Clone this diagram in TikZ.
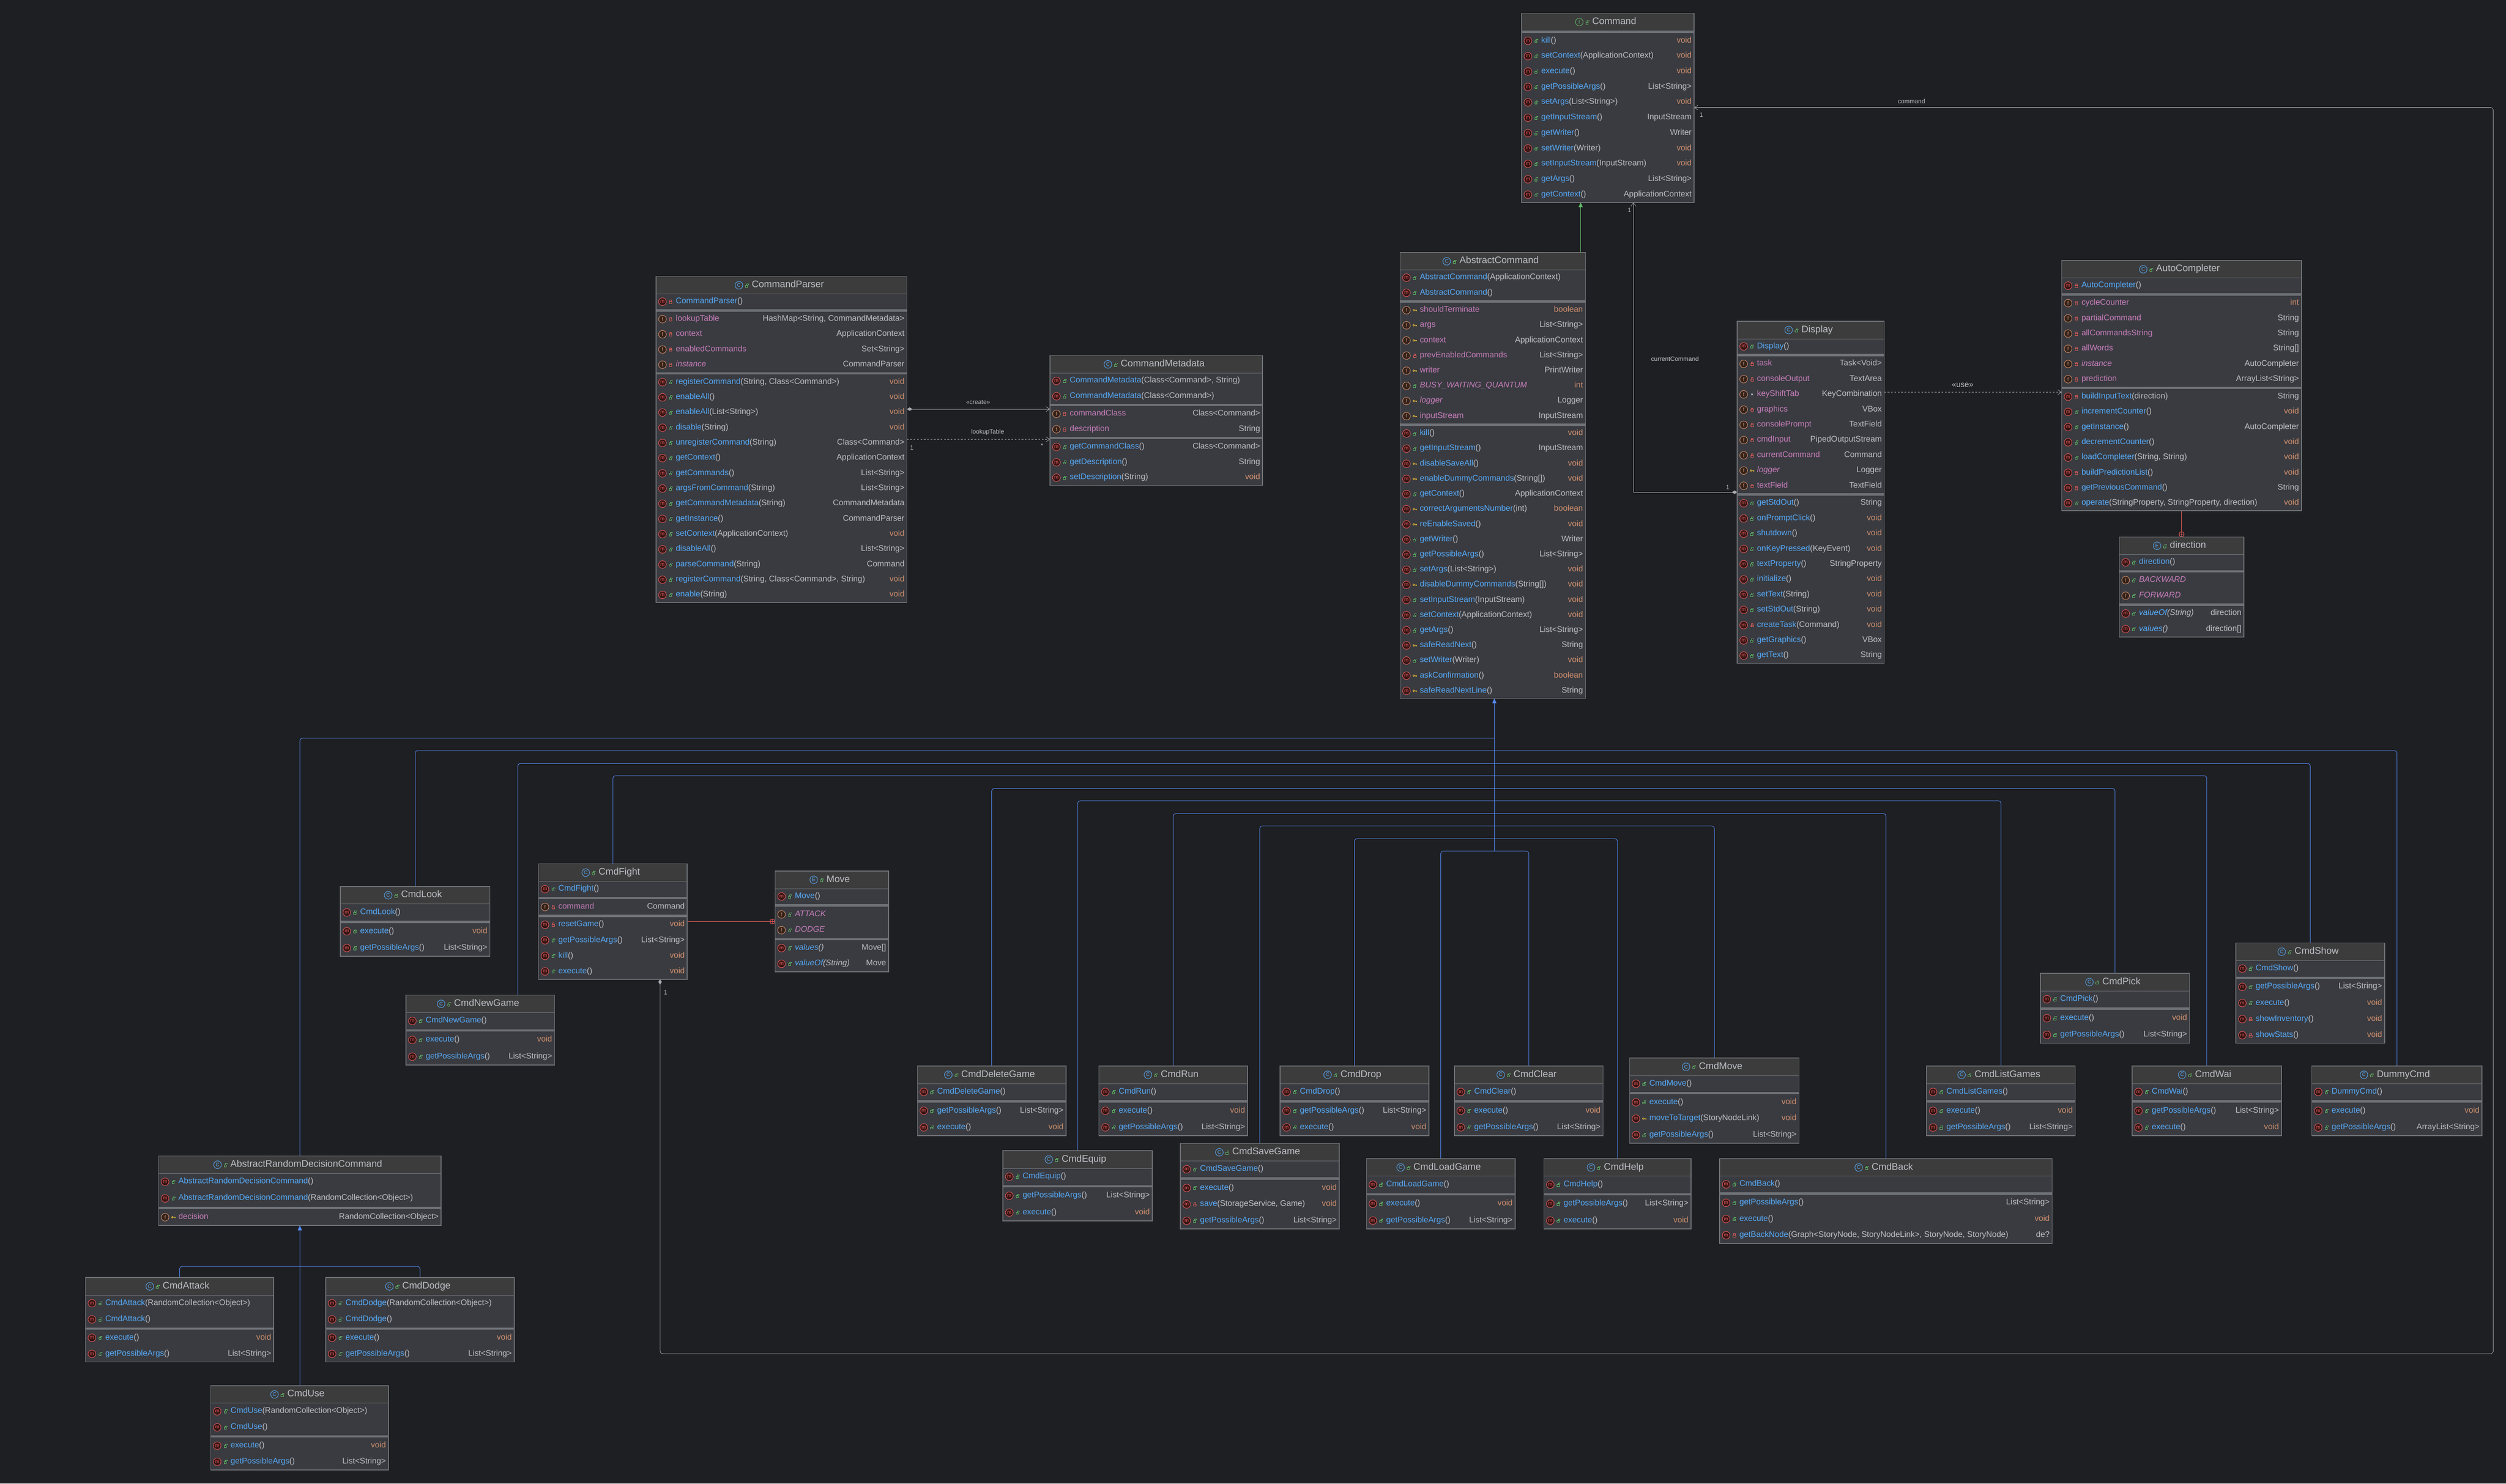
\documentclass[tikz,border=0pt]{standalone}
\usepackage{fontspec}
\setmainfont{Liberation Sans}
\usetikzlibrary{arrows.meta,calc}
\definecolor{cbg}{HTML}{1E1F22}
\definecolor{crow}{HTML}{393B40}
\definecolor{ctitle}{HTML}{3C3C3C}
\definecolor{cborder}{HTML}{6F7277}
\definecolor{ctext}{HTML}{BCBEC4}
\definecolor{cblue}{HTML}{56A8F5}
\definecolor{cpink}{HTML}{C77DBB}
\definecolor{corange}{HTML}{CF8E6D}
\definecolor{cred}{HTML}{E05A5A}
\definecolor{cgreen}{HTML}{5FB865}
\definecolor{cyellow}{HTML}{E8BA36}
\definecolor{cline}{HTML}{548AF7}
\definecolor{cgrey}{HTML}{A8ABB0}
\pgfdeclarelayer{bgl}
\pgfdeclarelayer{lines}
\pgfsetlayers{bgl,lines,main}
\def\TH{11}\def\SG{1.4}
\newcommand\rowfont{\fontsize{14.5}{15}\selectfont}
\newcommand\ttlfont{\fontsize{17}{18}\selectfont}
\newcommand\icofont{\fontsize{9}{9}\selectfont}
\newcommand\lblfont{\fontsize{11}{12}\selectfont}
\def\svoid{void}\def\sbool{boolean}\def\sint{int}\def\sI{I}
\def\ukm{\def\uic{m}\def\uicc{cred}\def\unc{cblue}\let\ufs\relax}
\def\ukM{\def\uic{m}\def\uicc{cred}\def\unc{cblue}\let\ufs\itshape}
\def\ukf{\def\uic{f}\def\uicc{corange}\def\unc{cpink}\let\ufs\relax}
\def\ukF{\def\uic{f}\def\uicc{corange}\def\unc{cpink}\let\ufs\itshape}
\tikzset{
 visa/.pic={\draw[cgreen,line width=0.3mm] (-0.9,-0.1) rectangle (0.5,1.1); \draw[cgreen,line width=0.3mm] (-0.2,-0.1) -- (-0.2,-0.9) -- (1.0,-0.9) -- (1.0,-0.4);},
 visp/.pic={\draw[cred,line width=0.3mm] (-0.8,-0.1) rectangle (0.8,1.1); \draw[cred,line width=0.3mm] (-0.5,-0.1) -- (-0.5,-1.0) -- (0.5,-1.0) -- (0.5,-0.1);},
 visk/.pic={\draw[cyellow,line width=0.3mm] (-0.6,0) circle (0.55) (-0.05,0) -- (1.2,0) -- (1.2,0.6) (0.7,0) -- (0.7,0.5);},
 viso/.pic={\draw[ctext,line width=0.3mm] (0,0) circle (0.55);},
 ico/.style={circle,line width=0.3mm,inner sep=0,minimum size=4.8mm,font=\icofont},
 assoc/.style={cgrey,line width=0.25mm},
 inh/.style={cline,line width=0.3mm},
 lbl/.style={text=ctext,font=\lblfont,inner sep=0},
 barb/.tip={Straight Barb[length=2.2mm,width=3mm]},
 dia/.tip={Diamond[length=3.4mm,width=2.2mm,fill=cgrey]}
}
% id, x, ytop, w, ybot, title, icon, seps, rows
\newcommand\umlbox[9]{%
 \pgfmathsetmacro\bx{#2}\pgfmathsetmacro\bt{#3}\pgfmathsetmacro\bw{#4}\pgfmathsetmacro\bb{#5}%
 \xdef\unr{0}\foreach \rr [count=\ii] in {#9}{\xdef\unr{\ii}}%
 \xdef\uns{0}\foreach \ss [count=\jj] in {#8}{\xdef\uns{\jj}}%
 \pgfmathsetmacro\rh{(\bb-\bt-\TH-\uns*\SG)/\unr}%
 \node[fill=crow,anchor=north west,minimum width=\bw mm,minimum height=(\bb-\bt)*1mm,inner sep=0,outer sep=0] (#1) at (\bx,\bt) {};
 \fill[ctitle] (\bx,\bt) rectangle (\bx+\bw,\bt+\TH);
 \foreach \ss [count=\jj] in {#8}{%
  \pgfmathsetmacro\sy{\bt+\TH+\ss*\rh+(\jj-0.5)*\SG}%
  \draw[cborder,line width=\SG mm] (\bx,\sy) -- ++(\bw,0);}
 \draw[cborder,line width=0.3mm] (\bx,\bt+\TH) -- ++(\bw,0);
 \draw[cborder,line width=0.5mm] (\bx,\bt) rectangle (\bx+\bw,\bb);
 \node[font=\ttlfont,text=ctext,inner sep=0,text height=4mm,text depth=1.1mm] (#1-t) at (\bx+\bw/2+4,\bt+\TH/2) {#6};
 \def\utmp{#7}\ifx\utmp\sI\def\utc{cgreen}\else\def\utc{cblue}\fi
 \node[ico,draw=\utc,text=\utc] at ($(#1-t.west)+(-8,0)$) {#7};
 \pic at ($(#1-t.west)+(-3,0.2)$) {visa};
 \foreach \rK/\rV/\rN/\rA/\rT [count=\ii] in {#9}{%
  \xdef\uacc{0}\foreach \ss in {#8}{\pgfmathparse{\ss<\ii?1:0}\xdef\uacc{\uacc+\pgfmathresult}}%
  \pgfmathsetmacro\yy{\bt+\TH+(\ii-0.5)*\rh+\SG*(\uacc)}%
  \csname uk\rK\endcsname
  \node[ico,draw=\uicc,fill=\uicc!25!black,text=\uicc] at (\bx+4,\yy) {\uic};
  \edef\upic{\noexpand\pic at (\bx+9.2,\yy) {vis\rV};}\upic
  \node[anchor=west,inner sep=0,font=\rowfont,text height=3.4mm,text depth=1mm] at (\bx+12.3,\yy) {\ufs\textcolor{\unc}{\rN}\textcolor{ctext}{\rA}};
  \edef\utyp{\rT}\def\utc{ctext}%
  \ifx\utyp\svoid\def\utc{corange}\fi\ifx\utyp\sbool\def\utc{corange}\fi\ifx\utyp\sint\def\utc{corange}\fi
  \node[anchor=east,inner sep=0,font=\rowfont,text=\utc,text height=3.4mm,text depth=1mm] at (\bx+\bw-1.5,\yy) {\rT};
 }%
}
\begin{document}
\begin{tikzpicture}[x=1mm,y=-1mm]
\begin{pgfonlayer}{bgl}
\fill[cbg] (0,0) rectangle (1568,928.4);
\end{pgfonlayer}
\useasboundingbox (0,0) rectangle (1568,928.4);

\umlbox{cmd}{952}{8.3}{108}{126.6}{Command}{I}{0}{m/a/kill/()/void, m/a/setContext/(ApplicationContext)/void, m/a/execute/()/void, m/a/getPossibleArgs/()/List<String>, m/a/setArgs/(List<String>)/void, m/a/getInputStream/()/InputStream, m/a/getWriter/()/Writer, m/a/setWriter/(Writer)/void, m/a/setInputStream/(InputStream)/void, m/a/getArgs/()/List<String>, m/a/getContext/()/ApplicationContext}

\umlbox{parser}{410.5}{173}{157}{377}{CommandParser}{C}{1,5}{m/p/CommandParser/()/{}, f/p/lookupTable/{}/{HashMap<String, CommandMetadata>}, f/p/context/{}/ApplicationContext, f/p/enabledCommands/{}/Set<String>, F/p/instance/{}/CommandParser, m/a/registerCommand/{(String, Class<Command>)}/void, m/a/enableAll/()/void, m/a/enableAll/(List<String>)/void, m/a/disable/(String)/void, m/a/unregisterCommand/(String)/Class<Command>, m/a/getContext/()/ApplicationContext, m/a/getCommands/()/List<String>, m/a/argsFromCommand/(String)/List<String>, m/a/getCommandMetadata/(String)/CommandMetadata, m/a/getInstance/()/CommandParser, m/a/setContext/(ApplicationContext)/void, m/a/disableAll/()/List<String>, m/a/parseCommand/(String)/Command, m/a/registerCommand/{(String, Class<Command>, String)}/void, m/a/enable/(String)/void}

\umlbox{meta}{657}{222.5}{133}{303.7}{CommandMetadata}{C}{2,4}{m/a/CommandMetadata/{(Class<Command>, String)}/{}, m/a/CommandMetadata/(Class<Command>)/{}, f/p/commandClass/{}/Class<Command>, f/p/description/{}/String, m/a/getCommandClass/()/Class<Command>, m/a/getDescription/()/String, m/a/setDescription/(String)/void}

\umlbox{ac}{876}{158}{116}{437}{AbstractCommand}{C}{2,10}{m/a/AbstractCommand/(ApplicationContext)/{}, m/a/AbstractCommand/()/{}, f/k/shouldTerminate/{}/boolean, f/k/args/{}/List<String>, f/k/context/{}/ApplicationContext, f/p/prevEnabledCommands/{}/List<String>, f/k/writer/{}/PrintWriter, F/a/BUSY\_WAITING\_QUANTUM/{}/int, F/k/logger/{}/Logger, f/k/inputStream/{}/InputStream, m/a/kill/()/void, m/a/getInputStream/()/InputStream, m/k/disableSaveAll/()/void, m/k/enableDummyCommands/(String[])/void, m/a/getContext/()/ApplicationContext, m/k/correctArgumentsNumber/(int)/boolean, m/k/reEnableSaved/()/void, m/a/getWriter/()/Writer, m/a/getPossibleArgs/()/List<String>, m/a/setArgs/(List<String>)/void, m/k/disableDummyCommands/(String[])/void, m/a/setInputStream/(InputStream)/void, m/a/setContext/(ApplicationContext)/void, m/a/getArgs/()/List<String>, m/k/safeReadNext/()/String, m/a/setWriter/(Writer)/void, m/k/askConfirmation/()/boolean, m/k/safeReadNextLine/()/String}

\umlbox{disp}{1087}{201}{92}{415}{Display}{C}{1,10}{m/a/Display/()/{}, f/p/task/{}/Task<Void>, f/p/consoleOutput/{}/TextArea, f/o/keyShiftTab/{}/KeyCombination, f/p/graphics/{}/VBox, f/p/consolePrompt/{}/TextField, f/p/cmdInput/{}/PipedOutputStream, f/p/currentCommand/{}/Command, F/k/logger/{}/Logger, f/p/textField/{}/TextField, m/a/getStdOut/()/String, m/a/onPromptClick/()/void, m/a/shutdown/()/void, m/a/onKeyPressed/(KeyEvent)/void, m/a/textProperty/()/StringProperty, m/a/initialize/()/void, m/a/setText/(String)/void, m/a/setStdOut/(String)/void, m/p/createTask/(Command)/void, m/a/getGraphics/()/VBox, m/a/getText/()/String}

\umlbox{auto}{1290}{163}{150}{319.6}{AutoCompleter}{C}{1,7}{m/p/AutoCompleter/()/{}, f/p/cycleCounter/{}/int, f/p/partialCommand/{}/String, f/p/allCommandsString/{}/String, f/p/allWords/{}/String[], F/p/instance/{}/AutoCompleter, f/p/prediction/{}/ArrayList<String>, m/p/buildInputText/(direction)/String, m/a/incrementCounter/()/void, m/a/getInstance/()/AutoCompleter, m/a/decrementCounter/()/void, m/a/loadCompleter/{(String, String)}/void, m/p/buildPredictionList/()/void, m/p/getPreviousCommand/()/String, m/a/operate/{(StringProperty, StringProperty, direction)}/void}

\umlbox{dir}{1326}{336}{78}{398.5}{direction}{E}{1,3}{m/a/direction/()/{}, F/a/BACKWARD/{}/{}, F/a/FORWARD/{}/{}, M/a/valueOf/(String)/direction, M/a/values/()/direction[]}

\umlbox{look}{213}{554.7}{93.5}{598.4}{CmdLook}{C}{1}{m/a/CmdLook/()/{}, m/a/execute/()/void, m/a/getPossibleArgs/()/List<String>}
\umlbox{fight}{337}{540.5}{93}{612.7}{CmdFight}{C}{1,2}{m/a/CmdFight/()/{}, f/p/command/{}/Command, m/p/resetGame/()/void, m/a/getPossibleArgs/()/List<String>, m/a/kill/()/void, m/a/execute/()/void}
\umlbox{move}{485}{545}{71}{608}{Move}{E}{1,3}{m/a/Move/()/{}, F/a/ATTACK/{}/{}, F/a/DODGE/{}/{}, M/a/values/()/Move[], M/a/valueOf/(String)/Move}
\umlbox{newgame}{254}{622.6}{93}{666.4}{CmdNewGame}{C}{1}{m/a/CmdNewGame/()/{}, m/a/execute/()/void, m/a/getPossibleArgs/()/List<String>}
\umlbox{ardc}{99.3}{723.3}{176.7}{766.8}{AbstractRandomDecisionCommand}{C}{2}{m/a/AbstractRandomDecisionCommand/()/{}, m/a/AbstractRandomDecisionCommand/(RandomCollection<Object>)/{}, f/k/decision/{}/RandomCollection<Object>}
\umlbox{attack}{53.5}{799.4}{117.8}{852.2}{CmdAttack}{C}{2}{m/a/CmdAttack/(RandomCollection<Object>)/{}, m/a/CmdAttack/()/{}, m/a/execute/()/void, m/a/getPossibleArgs/()/List<String>}
\umlbox{dodge}{203.8}{799.4}{118}{852.2}{CmdDodge}{C}{2}{m/a/CmdDodge/(RandomCollection<Object>)/{}, m/a/CmdDodge/()/{}, m/a/execute/()/void, m/a/getPossibleArgs/()/List<String>}
\umlbox{use}{131.9}{867}{111.1}{919.7}{CmdUse}{C}{2}{m/a/CmdUse/(RandomCollection<Object>)/{}, m/a/CmdUse/()/{}, m/a/execute/()/void, m/a/getPossibleArgs/()/List<String>}

\umlbox{delete}{574}{667}{93}{710.6}{CmdDeleteGame}{C}{1}{m/a/CmdDeleteGame/()/{}, m/a/getPossibleArgs/()/List<String>, m/a/execute/()/void}
\umlbox{run}{687.6}{667}{93}{710.6}{CmdRun}{C}{1}{m/a/CmdRun/()/{}, m/a/execute/()/void, m/a/getPossibleArgs/()/List<String>}
\umlbox{drop}{801}{667}{93}{710.6}{CmdDrop}{C}{1}{m/a/CmdDrop/()/{}, m/a/getPossibleArgs/()/List<String>, m/a/execute/()/void}
\umlbox{clear}{910}{667}{93}{710.6}{CmdClear}{C}{1}{m/a/CmdClear/()/{}, m/a/execute/()/void, m/a/getPossibleArgs/()/List<String>}
\umlbox{cmove}{1019.6}{662}{106}{715.3}{CmdMove}{C}{1}{m/a/CmdMove/()/{}, m/a/execute/()/void, m/k/moveToTarget/(StoryNodeLink)/void, m/a/getPossibleArgs/()/List<String>}
\umlbox{equip}{627.5}{720}{93.5}{764}{CmdEquip}{C}{1}{m/a/CmdEquip/()/{}, m/a/getPossibleArgs/()/List<String>, m/a/execute/()/void}
\umlbox{save}{738.5}{715.5}{99.5}{769}{CmdSaveGame}{C}{1}{m/a/CmdSaveGame/()/{}, m/a/execute/()/void, m/p/save/{(StorageService, Game)}/void, m/a/getPossibleArgs/()/List<String>}
\umlbox{load}{855}{725}{93}{769}{CmdLoadGame}{C}{1}{m/a/CmdLoadGame/()/{}, m/a/execute/()/void, m/a/getPossibleArgs/()/List<String>}
\umlbox{help}{966}{725}{92}{769}{CmdHelp}{C}{1}{m/a/CmdHelp/()/{}, m/a/getPossibleArgs/()/List<String>, m/a/execute/()/void}
\umlbox{back}{1076}{725}{208}{778}{CmdBack}{C}{1}{m/a/CmdBack/()/{}, m/a/getPossibleArgs/()/List<String>, m/a/execute/()/void, m/p/getBackNode/{(Graph<StoryNode, StoryNodeLink>, StoryNode, StoryNode)}/de?}
\umlbox{list}{1205.5}{667}{93}{710.7}{CmdListGames}{C}{1}{m/a/CmdListGames/()/{}, m/a/execute/()/void, m/a/getPossibleArgs/()/List<String>}
\umlbox{pick}{1276.7}{609}{93.3}{652.8}{CmdPick}{C}{1}{m/a/CmdPick/()/{}, m/a/execute/()/void, m/a/getPossibleArgs/()/List<String>}
\umlbox{show}{1399}{590}{93}{652.8}{CmdShow}{C}{1}{m/a/CmdShow/()/{}, m/a/getPossibleArgs/()/List<String>, m/a/execute/()/void, m/p/showInventory/()/void, m/p/showStats/()/void}
\umlbox{wai}{1334}{667}{93.5}{710.7}{CmdWai}{C}{1}{m/a/CmdWai/()/{}, m/a/getPossibleArgs/()/List<String>, m/a/execute/()/void}
\umlbox{dummy}{1446.5}{667}{106.5}{710.7}{DummyCmd}{C}{1}{m/a/DummyCmd/()/{}, m/a/execute/()/void, m/a/getPossibleArgs/()/ArrayList<String>}

\begin{pgfonlayer}{lines}
\draw[inh,-{Triangle[length=3mm,width=2.6mm]}] (935,532.5) -- (ac.south -| 935,0);
\foreach \c/\l in {ardc/461.9, look/469.7, dummy/469.7, show/477.7, fight/485.4, wai/485.4, delete/493.4, pick/493.4, equip/501.1, list/501.1, run/509.1, back/509.1, save/516.8, cmove/516.8, drop/524.8, help/524.8, load/532.5, clear/532.5}
  \draw[inh,rounded corners=1.5mm] (\c.north) |- (935,\l);
\draw[inh,rounded corners=1.5mm] (newgame.north -| 324,0) |- (935,477.7);
\draw[inh,-{Triangle[length=3mm,width=2.6mm]}] (use.north -| 187.6,0) -- (ardc.south -| 187.6,0);
\draw[inh,rounded corners=1.5mm] (attack.north) |- (187.6,792.4);
\draw[inh,rounded corners=1.5mm] (dodge.north) |- (187.6,792.4);
\draw[cgreen,line width=0.3mm,-{Triangle[length=3mm,width=2.6mm]}] (ac.north -| 989,0) -- (cmd.south -| 989,0);
\draw[assoc,{dia}-{barb}] (disp.west |- 0,308) -| (cmd.south -| 1022,0);
\draw[assoc,rounded corners=1.5mm,{dia}-{barb}] (fight.south -| 413,0) |- (1560,847) |- (cmd.east |- 0,67.3);
\draw[assoc,{dia}-{barb}] (parser.east |- 0,256) -- (meta.west |- 0,256);
\draw[assoc,dashed,-{barb}] (parser.east |- 0,274.9) -- (meta.west |- 0,274.9);
\draw[assoc,dashed,-{barb}] (disp.east |- 0,245.4) -- (auto.west |- 0,245.4);
\draw[cred,line width=0.3mm] (auto.south -| 1365,0) -- (dir.north -| 1365,0);
\draw[cred,line width=0.3mm,fill=cbg] (1365,334.3) circle (1.6) (1363.6,334.3) -- (1366.4,334.3) (1365,332.9) -- (1365,335.7);
\draw[cred,line width=0.3mm] (fight.east |- 0,576.6) -- (move.west |- 0,576.6);
\draw[cred,line width=0.3mm,fill=cbg] (483.3,576.6) circle (1.6) (481.9,576.6) -- (484.7,576.6) (483.3,575.2) -- (483.3,578);
\end{pgfonlayer}
\node[lbl] (l1) at (1196,63.5) {command};
\node[lbl] (l2) at (1064.5,72) {1};
\node[lbl] (l3) at (1048,224.5) {currentCommand};
\node[lbl] (l4) at (1019.5,131.5) {1};
\node[lbl] (l5) at (1081,305) {1};
\node[lbl] (l6) at (416.5,621) {1};
\node[lbl,font=\fontsize{14}{15}\selectfont] (l7) at (1228,241) {«use»};
\node[lbl] (l8) at (612,251.8) {«create»};
\node[lbl] (l9) at (618,270.3) {lookupTable};
\node[lbl] (l10) at (570.5,280) {1};
\node[lbl] (l11) at (652,279) {*};
\end{tikzpicture}
\end{document}
